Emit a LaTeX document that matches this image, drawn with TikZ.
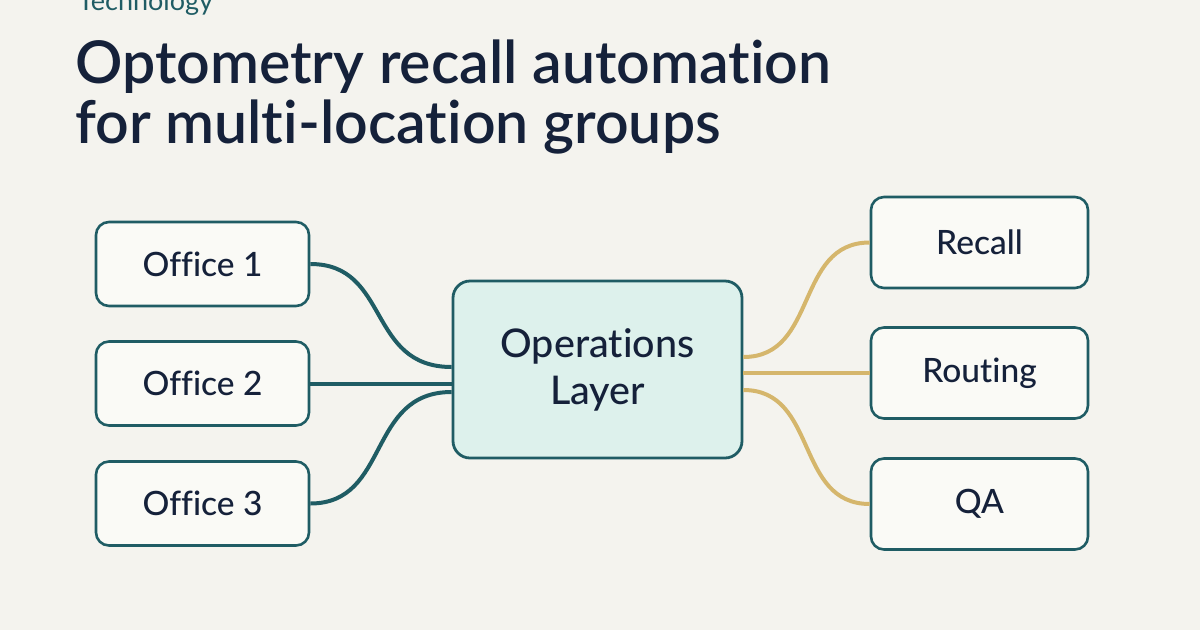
\documentclass[tikz,border=0pt]{standalone}
\usepackage{fontspec}
\setmainfont{Lato}[Ligatures=NoCommon]
\newfontfamily\titlefont{Lato Semibold}[Ligatures=NoCommon]
\newfontfamily\nodefont{Lato Medium}[Ligatures=NoCommon]
\usetikzlibrary{calc}
\definecolor{bg}{HTML}{F4F3EE}
\definecolor{boxfill}{HTML}{FAFAF6}
\definecolor{teal}{HTML}{1F5C64}
\definecolor{cfill}{HTML}{DDF1EC}
\definecolor{gold}{HTML}{D5B66C}
\definecolor{ink}{HTML}{15213A}
\begin{document}
\begin{tikzpicture}[x=1pt,y=-1pt,
  box/.style={draw=teal, line width=2.6pt, fill=boxfill, rounded corners=13pt,
    minimum width=213pt, minimum height=84pt, inner sep=0pt, text=ink,
    font=\nodefont\fontsize{33.5}{38}\selectfont},
  rbox/.style={box, minimum width=217pt, minimum height=91pt},
  hub/.style={draw=teal, line width=2.8pt, fill=cfill, rounded corners=17pt,
    minimum width=289pt, minimum height=177pt, inner sep=0pt, text=ink, align=center,
    font=\nodefont\fontsize{39.5}{47}\selectfont},
  inlink/.style={draw=teal, line width=4pt},
  outlink/.style={draw=gold, line width=4pt}]
\fill[bg] (0,0) rectangle (1200,630);
\useasboundingbox (0,0) rectangle (1200,630);
\node[anchor=base west, text=teal, font=\fontsize{27}{30}\selectfont, inner sep=0pt] (tag) at (78,10) {Technology};
\node[anchor=base west, text=ink, font=\titlefont\fontsize{59}{60}\selectfont, inner sep=0pt] (t1) at (75,83) {Optometry recall automation};
\node[anchor=base west, text=ink, font=\titlefont\fontsize{59}{60}\selectfont, inner sep=0pt] (t2) at (75,143) {for multi-location groups};

\node[box] (o1) at (202.5,264) {Office 1};
\node[box] (o2) at (202.5,383.5) {Office 2};
\node[box] (o3) at (202.5,503.5) {Office 3};
\node[hub] (c) at (597.5,369.5) {Operations\\Layer};
\node[rbox] (r1) at (979.5,242.5) {Recall};
\node[rbox] (r2) at (979.5,373) {Routing};
\node[rbox] (r3) at (979.5,504) {QA};

\draw[inlink] (o1.east) .. controls ++(80,0) and ($(c.west)+(-85,-2.5)$) .. ($(c.west)+(0,-2.5)$);
\draw[inlink] (o2.east) -- (c.west |- o2.east);
\draw[inlink] (o3.east) .. controls ++(80,0) and ($(c.west)+(-85,22.5)$) .. ($(c.west)+(0,22.5)$);
\draw[outlink] ($(c.east)+(0,-12.5)$) .. controls ($(c.east)+(75,-12.5)$) and ($(r1.west)+(-75,0)$) .. (r1.west);
\draw[outlink] ($(c.east)+(0,3.5)$) -- (r2.west);
\draw[outlink] ($(c.east)+(0,20.5)$) .. controls ($(c.east)+(75,20.5)$) and ($(r3.west)+(-75,0)$) .. (r3.west);
\end{tikzpicture}
\end{document}
